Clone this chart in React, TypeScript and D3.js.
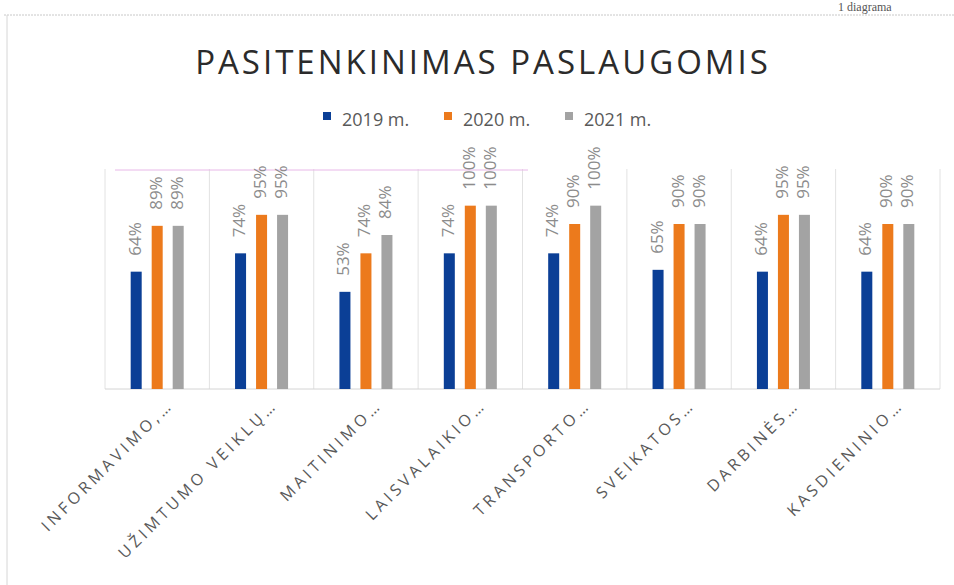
import * as d3 from 'd3'

// Chart values
const categories = [
  'INFORMAVIMO,…',
  'UŽIMTUMO VEIKLŲ…',
  'MAITINIMO…',
  'LAISVALAIKIO…',
  'TRANSPORTO…',
  'SVEIKATOS…',
  'DARBINĖS…',
  'KASDIENINIO…',
]
const seriesNames = ['2019 m.', '2020 m.', '2021 m.']
const values2019 = [64, 74, 53, 74, 74, 65, 64, 64]
const values2020 = [89, 95, 74, 100, 90, 90, 95, 90]
const values2021 = [89, 95, 84, 100, 100, 90, 95, 90]
const seriesColors = ['#0b3f96', '#ec7a1c', '#a3a3a3']

const W = 954
const H = 585

const App = () => {
  const series = [values2019, values2020, values2021]

  // Scales
  const x0 = d3.scaleBand().domain(categories).range([105, 940]).padding(0)
  const bw = x0.bandwidth()
  const x1 = d3
    .scaleBand()
    .domain(seriesNames)
    .range([bw / 2 - 36.5, bw / 2 + 36.5])
    .padding(0.476)
  const y = d3.scaleLinear().domain([0, 120]).range([389, 169])

  const gridXs = categories.map((c) => x0(c) as number).concat([940])

  const legendX = d3.scaleOrdinal<string, number>().domain(seriesNames).range([323, 444, 565])

  return (
    <svg width={W} height={H} style={{ display: 'block', position: 'absolute', left: 0, top: 0 }}>
      <rect x={0} y={0} width={W} height={H} fill="#fff" />
      {/* page bits from the scan */}
      <text x={838} y={11} fontFamily="'Liberation Serif', serif" fontSize={12} fill="#555">
        1 diagrama
      </text>
      <line x1={4} x2={W} y1={15} y2={15} stroke="#c8c8c8" strokeDasharray="2,1" />
      <line x1={7} x2={7} y1={15} y2={H} stroke="#d6d6d6" />

      {/* title */}
      <text
        x={483}
        y={74}
        textAnchor="middle"
        fontFamily="'Open Sans', sans-serif"
        fontSize={33}
        letterSpacing={3}
        fill="#2b2b2b"
      >
        PASITENKINIMAS PASLAUGOMIS
      </text>

      {/* legend */}
      {seriesNames.map((s, i) => (
        <g key={s} transform={`translate(${legendX(s)},0)`}>
          <rect x={0} y={112} width={8} height={8} fill={seriesColors[i]} />
          <text x={19} y={126} fontFamily="'Open Sans', sans-serif" fontSize={18} fill="#595959">
            {s}
          </text>
        </g>
      ))}

      {/* gridlines */}
      {gridXs.map((gx, i) => (
        <line key={i} x1={gx} x2={gx} y1={y(120)} y2={y(0)} stroke="#e2e2e2" />
      ))}
      <line x1={105} x2={940} y1={y(0)} y2={y(0)} stroke="#d4d4d4" />
      <line x1={115} x2={528} y1={170} y2={170} stroke="#e8b8e8" />

      {/* bars and labels */}
      {categories.map((c, ci) => (
        <g key={c} transform={`translate(${x0(c)},0)`}>
          {seriesNames.map((s, si) => {
            const v = series[si][ci]
            const bx = x1(s) as number
            const cx = bx + x1.bandwidth() / 2
            return (
              <g key={s}>
                <rect x={bx} y={y(v)} width={x1.bandwidth()} height={y(0) - y(v)} fill={seriesColors[si]} />
                <text
                  transform={`translate(${cx},${y(v) - 16}) rotate(-90)`}
                  dominantBaseline="middle"
                  fontFamily="'Open Sans', sans-serif"
                  fontSize={17}
                  fill="#8c8c8c"
                >
                  {v}%
                </text>
              </g>
            )
          })}
          <text
            transform={`translate(${bw / 2 + 17},${406}) rotate(-45)`}
            textAnchor="end"
            fontFamily="'Open Sans', sans-serif"
            fontSize={16}
            letterSpacing={3.8}
            fill="#595959"
          >
            {c}
          </text>
        </g>
      ))}
    </svg>
  )
}

export default App
